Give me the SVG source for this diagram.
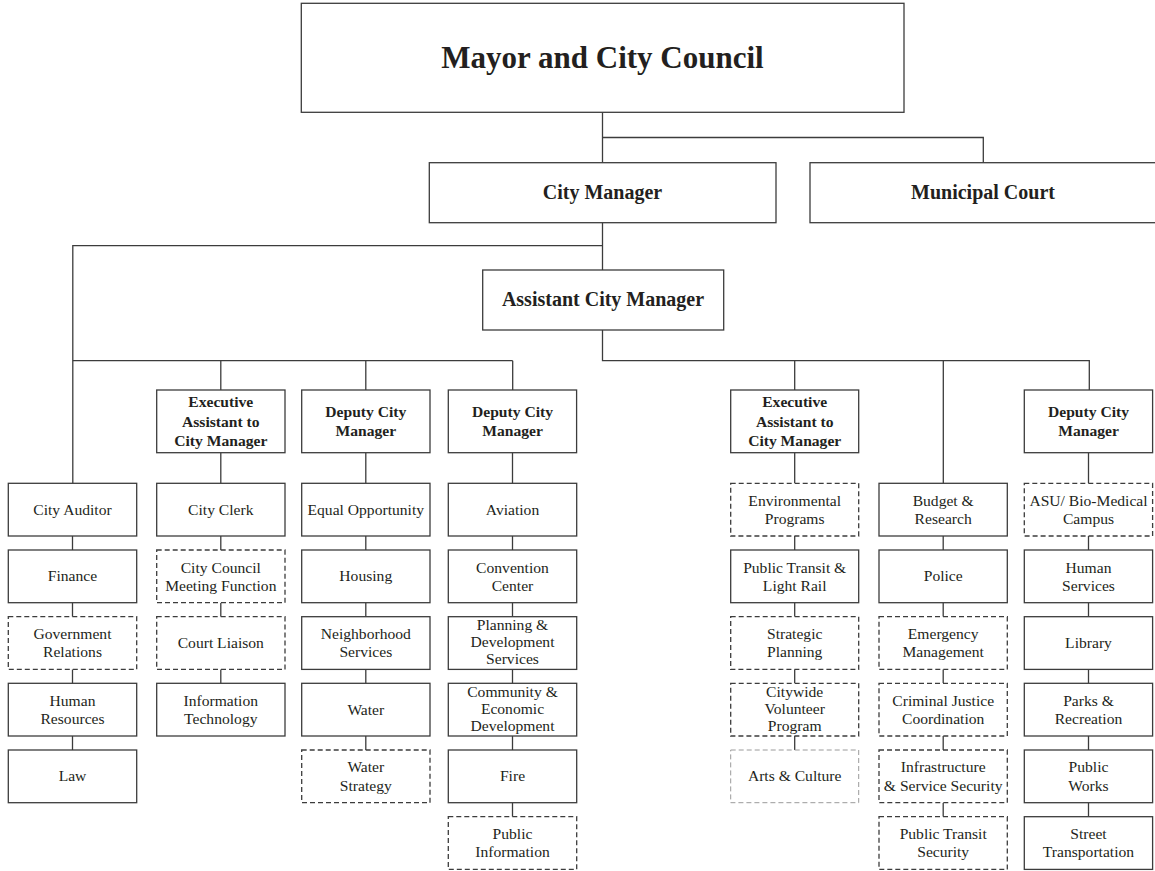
<svg xmlns="http://www.w3.org/2000/svg" width="1155" height="871" viewBox="0 0 1155 871">
<style>
.b{fill:#fff;stroke:#3c3c3c;stroke-width:1.3}
.d{fill:#fff;stroke:#3c3c3c;stroke-width:1.3;stroke-dasharray:5 3}
.l{fill:#fff;stroke:#9a9a9a;stroke-width:1;stroke-dasharray:5 3}
.c{fill:none;stroke:#3c3c3c;stroke-width:1.3}
text{font-family:"Liberation Serif","Times New Roman",serif;fill:#231f20;text-anchor:middle}
.t{font-size:15.6px}
.h{font-size:15.6px;font-weight:bold}
.m{font-size:20px;font-weight:bold}
.top{font-size:31px;font-weight:bold}
</style>
<rect width="1155" height="871" fill="#fff"/>
<g id="connectors">
<path class="c" d="M602.5 112V162.7M602.5 137.5H983.3V162.7"/>
<path class="c" d="M602.5 222.7V270M602.5 245.7H72.8V483.3"/>
<path class="c" d="M72.8 360.7H512.7M220.8 360.7V390M365.8 360.7V390M512.7 360.7V390"/>
<path class="c" d="M602.5 330V360.7H1089.3V390M794.7 360.7V390M943.3 360.7V483.3"/>
<path class="c" d="M220.8 452.7V483.3M365.8 452.7V483.3M512.5 452.7V483.3M794.7 452.7V483.3M1088.5 452.7V483.3"/>
<path class="c" d="M72.5 536V550M72.5 602.7V616.7M72.5 669.3V683.3M72.5 736V750"/>
<path class="c" d="M220.8 536V550M220.8 602.7V616.7M220.8 669.3V683.3"/>
<path class="c" d="M365.8 536V550M365.8 602.7V616.7M365.8 669.3V683.3M365.8 736V750"/>
<path class="c" d="M512.5 536V550M512.5 602.7V616.7M512.5 669.3V683.3M512.5 736V750M512.5 802.7V816.7"/>
<path class="c" d="M794.7 536V550M794.7 602.7V616.7M794.7 669.3V683.3M794.7 736V750"/>
<path class="c" d="M943.2 536V550M943.2 602.7V616.7M943.2 669.3V683.3M943.2 736V750M943.2 802.7V816.7"/>
<path class="c" d="M1088.5 536V550M1088.5 602.7V616.7M1088.5 669.3V683.3M1088.5 736V750M1088.5 802.7V816.7"/>
</g>
<g id="mayor"><rect class="b" x="301.3" y="3.3" width="602.7" height="109"/><text class="top" x="602.5" y="68">Mayor and City Council</text></g>
<g id="city-manager"><rect class="b" x="429.3" y="162.7" width="346.7" height="60"/><text class="m" x="602.5" y="199">City Manager</text></g>
<g id="municipal-court"><rect class="b" x="810" y="162.7" width="346" height="60"/><text class="m" x="983" y="199">Municipal Court</text></g>
<g id="assistant-city-manager"><rect class="b" x="482.7" y="270" width="241" height="60"/><text class="m" x="603" y="306">Assistant City Manager</text></g>

<g id="exec-assistant-1"><rect class="b" x="156.7" y="390" width="128.3" height="62.7"/><text class="h" x="220.8" y="407"><tspan x="220.8">Executive</tspan><tspan x="220.8" dy="19.7">Assistant to</tspan><tspan x="220.8" dy="19.7">City Manager</tspan></text></g>
<g id="deputy-1"><rect class="b" x="301.7" y="390" width="128.3" height="62.7"/><text class="h" x="365.8" y="417.3"><tspan x="365.8">Deputy City</tspan><tspan x="365.8" dy="18.7">Manager</tspan></text></g>
<g id="deputy-2"><rect class="b" x="448.3" y="390" width="128.3" height="62.7"/><text class="h" x="512.5" y="417.3"><tspan x="512.5">Deputy City</tspan><tspan x="512.5" dy="18.7">Manager</tspan></text></g>
<g id="exec-assistant-2"><rect class="b" x="730.7" y="390" width="128" height="62.7"/><text class="h" x="794.7" y="407"><tspan x="794.7">Executive</tspan><tspan x="794.7" dy="19.7">Assistant to</tspan><tspan x="794.7" dy="19.7">City Manager</tspan></text></g>
<g id="deputy-3"><rect class="b" x="1024.3" y="390" width="128.3" height="62.7"/><text class="h" x="1088.5" y="417.3"><tspan x="1088.5">Deputy City</tspan><tspan x="1088.5" dy="18.7">Manager</tspan></text></g>

<!-- Column A -->
<g id="city-auditor"><rect class="b" x="8.3" y="483.3" width="128.4" height="52.7"/><text class="t" x="72.5" y="514.7">City Auditor</text></g>
<g id="finance"><rect class="b" x="8.3" y="550" width="128.4" height="52.7"/><text class="t" x="72.5" y="581.3">Finance</text></g>
<g id="government-relations"><rect class="d" x="8.3" y="616.7" width="128.4" height="52.7"/><text class="t" x="72.5" y="639"><tspan x="72.5">Government</tspan><tspan x="72.5" dy="18.3">Relations</tspan></text></g>
<g id="human-resources"><rect class="b" x="8.3" y="683.3" width="128.4" height="52.7"/><text class="t" x="72.5" y="705.7"><tspan x="72.5">Human</tspan><tspan x="72.5" dy="18.3">Resources</tspan></text></g>
<g id="law"><rect class="b" x="8.3" y="750" width="128.4" height="52.7"/><text class="t" x="72.5" y="781.3">Law</text></g>

<!-- Column B -->
<g id="city-clerk"><rect class="b" x="156.7" y="483.3" width="128.3" height="52.7"/><text class="t" x="220.8" y="514.7">City Clerk</text></g>
<g id="council-meeting"><rect class="d" x="156.7" y="550" width="128.3" height="52.7"/><text class="t" x="220.8" y="572.5"><tspan x="220.8">City Council</tspan><tspan x="220.8" dy="18.3">Meeting Function</tspan></text></g>
<g id="court-liaison"><rect class="d" x="156.7" y="616.7" width="128.3" height="52.7"/><text class="t" x="220.8" y="648">Court Liaison</text></g>
<g id="information-technology"><rect class="b" x="156.7" y="683.3" width="128.3" height="52.7"/><text class="t" x="220.8" y="705.7"><tspan x="220.8">Information</tspan><tspan x="220.8" dy="18.3">Technology</tspan></text></g>

<!-- Column C -->
<g id="equal-opportunity"><rect class="b" x="301.7" y="483.3" width="128.3" height="52.7"/><text class="t" x="365.8" y="514.7">Equal Opportunity</text></g>
<g id="housing"><rect class="b" x="301.7" y="550" width="128.3" height="52.7"/><text class="t" x="365.8" y="581.3">Housing</text></g>
<g id="neighborhood-services"><rect class="b" x="301.7" y="616.7" width="128.3" height="52.7"/><text class="t" x="365.8" y="639"><tspan x="365.8">Neighborhood</tspan><tspan x="365.8" dy="18.3">Services</tspan></text></g>
<g id="water"><rect class="b" x="301.7" y="683.3" width="128.3" height="52.7"/><text class="t" x="365.8" y="714.7">Water</text></g>
<g id="water-strategy"><rect class="d" x="301.7" y="750" width="128.3" height="52.7"/><text class="t" x="365.8" y="772.3"><tspan x="365.8">Water</tspan><tspan x="365.8" dy="18.3">Strategy</tspan></text></g>

<!-- Column D -->
<g id="aviation"><rect class="b" x="448.3" y="483.3" width="128.4" height="52.7"/><text class="t" x="512.5" y="514.7">Aviation</text></g>
<g id="convention-center"><rect class="b" x="448.3" y="550" width="128.4" height="52.7"/><text class="t" x="512.5" y="572.5"><tspan x="512.5">Convention</tspan><tspan x="512.5" dy="18.3">Center</tspan></text></g>
<g id="planning-development"><rect class="b" x="448.3" y="616.7" width="128.4" height="52.7"/><text class="t" x="512.5" y="629.7"><tspan x="512.5">Planning &amp;</tspan><tspan x="512.5" dy="17.2">Development</tspan><tspan x="512.5" dy="17.2">Services</tspan></text></g>
<g id="community-economic"><rect class="b" x="448.3" y="683.3" width="128.4" height="52.7"/><text class="t" x="512.5" y="697"><tspan x="512.5">Community &amp;</tspan><tspan x="512.5" dy="17">Economic</tspan><tspan x="512.5" dy="17">Development</tspan></text></g>
<g id="fire"><rect class="b" x="448.3" y="750" width="128.4" height="52.7"/><text class="t" x="512.5" y="781.3">Fire</text></g>
<g id="public-information"><rect class="d" x="448.3" y="816.7" width="128.4" height="52.7"/><text class="t" x="512.5" y="839"><tspan x="512.5">Public</tspan><tspan x="512.5" dy="18.3">Information</tspan></text></g>

<!-- Column E -->
<g id="environmental-programs"><rect class="d" x="730.7" y="483.3" width="128" height="52.7"/><text class="t" x="794.7" y="505.7"><tspan x="794.7">Environmental</tspan><tspan x="794.7" dy="18.3">Programs</tspan></text></g>
<g id="public-transit-light-rail"><rect class="b" x="730.7" y="550" width="128" height="52.7"/><text class="t" x="794.7" y="572.5"><tspan x="794.7">Public Transit &amp;</tspan><tspan x="794.7" dy="18.3">Light Rail</tspan></text></g>
<g id="strategic-planning"><rect class="d" x="730.7" y="616.7" width="128" height="52.7"/><text class="t" x="794.7" y="639"><tspan x="794.7">Strategic</tspan><tspan x="794.7" dy="18.3">Planning</tspan></text></g>
<g id="citywide-volunteer"><rect class="d" x="730.7" y="683.3" width="128" height="52.7"/><text class="t" x="794.7" y="697"><tspan x="794.7">Citywide</tspan><tspan x="794.7" dy="17">Volunteer</tspan><tspan x="794.7" dy="17">Program</tspan></text></g>
<g id="arts-culture"><rect class="l" x="730.7" y="750" width="128" height="52.7"/><text class="t" x="794.7" y="781.3">Arts &amp; Culture</text></g>

<!-- Column F -->
<g id="budget-research"><rect class="b" x="879" y="483.3" width="128.3" height="52.7"/><text class="t" x="943.2" y="505.7"><tspan x="943.2">Budget &amp;</tspan><tspan x="943.2" dy="18.3">Research</tspan></text></g>
<g id="police"><rect class="b" x="879" y="550" width="128.3" height="52.7"/><text class="t" x="943.2" y="581.3">Police</text></g>
<g id="emergency-management"><rect class="d" x="879" y="616.7" width="128.3" height="52.7"/><text class="t" x="943.2" y="639"><tspan x="943.2">Emergency</tspan><tspan x="943.2" dy="18.3">Management</tspan></text></g>
<g id="criminal-justice"><rect class="d" x="879" y="683.3" width="128.3" height="52.7"/><text class="t" x="943.2" y="705.7"><tspan x="943.2">Criminal Justice</tspan><tspan x="943.2" dy="18.3">Coordination</tspan></text></g>
<g id="infrastructure-security"><rect class="d" x="879" y="750" width="128.3" height="52.7"/><text class="t" x="943.2" y="772.3"><tspan x="943.2">Infrastructure</tspan><tspan x="943.2" dy="18.3">&amp; Service Security</tspan></text></g>
<g id="public-transit-security"><rect class="d" x="879" y="816.7" width="128.3" height="52.7"/><text class="t" x="943.2" y="839"><tspan x="943.2">Public Transit</tspan><tspan x="943.2" dy="18.3">Security</tspan></text></g>

<!-- Column G -->
<g id="asu-biomedical"><rect class="d" x="1024.3" y="483.3" width="128.3" height="52.7"/><text class="t" x="1088.5" y="505.7"><tspan x="1088.5">ASU/ Bio-Medical</tspan><tspan x="1088.5" dy="18.3">Campus</tspan></text></g>
<g id="human-services"><rect class="b" x="1024.3" y="550" width="128.3" height="52.7"/><text class="t" x="1088.5" y="572.5"><tspan x="1088.5">Human</tspan><tspan x="1088.5" dy="18.3">Services</tspan></text></g>
<g id="library"><rect class="b" x="1024.3" y="616.7" width="128.3" height="52.7"/><text class="t" x="1088.5" y="648">Library</text></g>
<g id="parks-recreation"><rect class="b" x="1024.3" y="683.3" width="128.3" height="52.7"/><text class="t" x="1088.5" y="705.7"><tspan x="1088.5">Parks &amp;</tspan><tspan x="1088.5" dy="18.3">Recreation</tspan></text></g>
<g id="public-works"><rect class="b" x="1024.3" y="750" width="128.3" height="52.7"/><text class="t" x="1088.5" y="772.3"><tspan x="1088.5">Public</tspan><tspan x="1088.5" dy="18.3">Works</tspan></text></g>
<g id="street-transportation"><rect class="b" x="1024.3" y="816.7" width="128.3" height="52.7"/><text class="t" x="1088.5" y="839"><tspan x="1088.5">Street</tspan><tspan x="1088.5" dy="18.3">Transportation</tspan></text></g>
</svg>
